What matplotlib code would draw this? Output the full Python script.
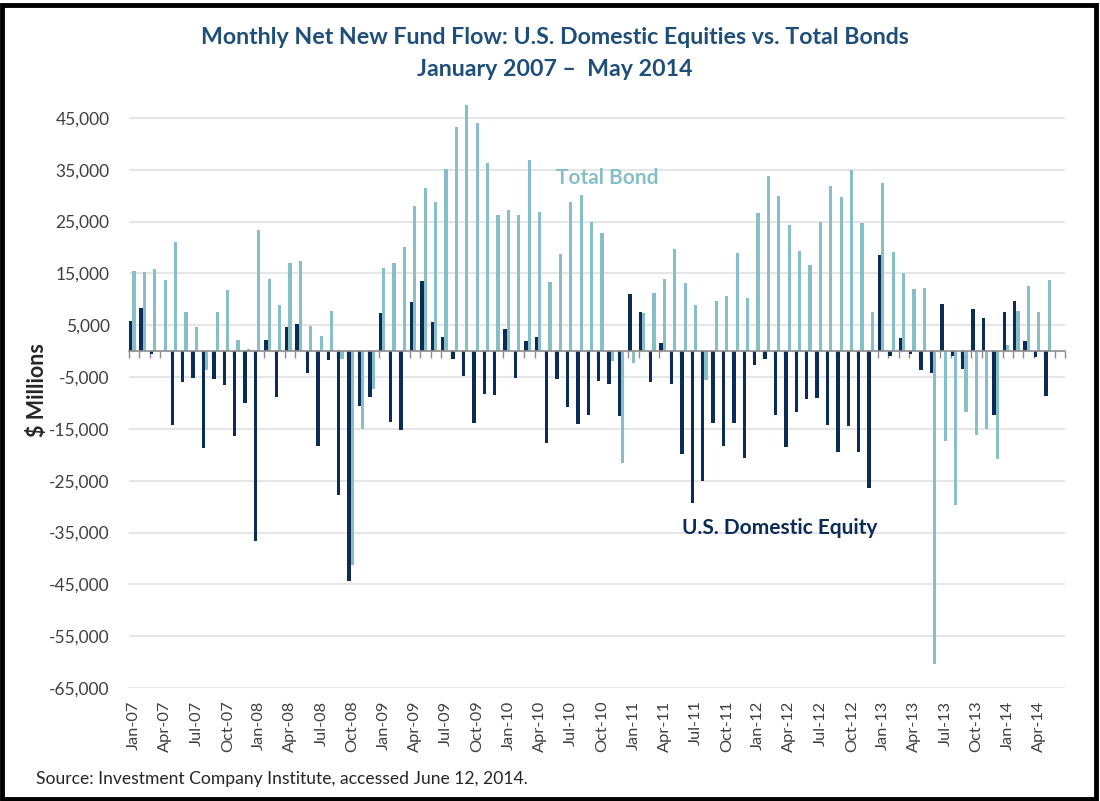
import matplotlib
matplotlib.use("Agg")
import matplotlib.pyplot as plt
from matplotlib.patches import Rectangle
import numpy as np

plt.rcParams['font.family'] = ['Lato', 'DejaVu Sans']

months = ["Jan", "Feb", "Mar", "Apr", "May", "Jun", "Jul", "Aug", "Sep", "Oct", "Nov", "Dec"]
categories = [f"{months[m]}-{y:02d}" for y in range(7, 15) for m in range(12)][:89]

# values in $ thousands of millions (multiplied by 1000 below)
equity = [5.9, 8.4, -0.5, 0.0, -14.3, -6.0, -5.1, -18.7, -5.3, -6.6, -16.4, -10.1,
          -36.6, 2.1, -8.8, 4.7, 5.2, -4.3, -18.3, -1.8, -27.8, -44.3, -10.6, -8.8,
          7.3, -13.6, -15.2, 9.4, 13.6, 5.6, 2.7, -1.6, -4.8, -13.9, -8.2, -8.5,
          4.3, -5.1, 1.9, 2.7, -17.8, -5.3, -10.8, -14.1, -12.3, -5.7, -6.4, -12.5,
          11.0, 7.5, -6.0, 1.5, -6.4, -19.9, -29.4, -25.0, -13.9, -18.3, -13.9, -20.6,
          -2.7, -1.6, -12.3, -18.5, -11.7, -9.2, -9.0, -14.3, -19.5, -14.5, -19.5, -26.4,
          18.6, -1.0, 2.6, -0.6, -3.6, -4.3, 9.1, -1.0, -3.4, 8.2, 6.4, -12.3,
          7.5, 9.6, 1.9, -1.2, -8.7]
bond = [15.4, 15.2, 15.9, 13.8, 21.0, 7.5, 4.7, -3.6, 7.5, 11.7, 2.1, 0.5,
        23.3, 14.0, 8.9, 17.1, 17.3, 4.9, 2.9, 7.8, -1.5, -41.3, -15.0, -7.3,
        16.1, 17.1, 20.0, 28.0, 31.5, 28.7, 35.2, 43.3, 47.5, 44.0, 36.3, 26.3,
        27.2, 26.3, 36.8, 26.8, 13.3, 18.7, 28.7, 30.2, 24.9, 22.8, -1.9, -21.5,
        -2.2, 7.3, 11.2, 14.0, 19.8, 13.1, 8.9, -5.5, 9.6, 10.6, 18.9, 10.3,
        26.6, 33.8, 30.0, 24.3, 19.3, 16.6, 25.0, 31.9, 29.8, 35.0, 24.7, 7.5,
        32.4, 19.1, 15.1, 11.9, 12.1, -60.3, -17.3, -29.6, -11.7, -16.2, -15.0, -20.8,
        1.2, 7.7, 12.6, 7.5, 13.8]
equity = [v * 1000 for v in equity]
bond = [v * 1000 for v in bond]

yticks = list(range(-65000, 45001, 10000))

DARK = "#0B2D55"
LIGHT = "#86BFC8"
TITLE = "#1F4E79"

W, H = 1100, 801
fig = plt.figure(figsize=(W / 100, H / 100), dpi=100)
ax = fig.add_axes([129 / W, 113 / H, (1065 - 129) / W, (709 - 113) / H])

x = np.arange(len(categories))
bw = 0.32
ax.bar(x - 0.34, equity, width=bw, color=DARK, zorder=3)
ax.bar(x - 0.02, bond, width=bw, color=LIGHT, zorder=3)

ax.set_xlim(-0.5, 89.5)
ax.set_ylim(-65000, 50000)
ax.set_yticks(yticks)
ax.set_yticklabels([f"{v:,}" for v in yticks], fontsize=12.5, color="#404040")
ax.yaxis.grid(True, color="#E3E3E3", linewidth=1.3, zorder=0)
ax.tick_params(axis='y', length=0, pad=14)

for s in ["top", "right", "left"]:
    ax.spines[s].set_visible(False)
ax.spines["bottom"].set_position(("data", 0))
ax.spines["bottom"].set_color("#8C8C8C")
ax.spines["bottom"].set_linewidth(1.2)
ax.spines["bottom"].set_zorder(4)
ax.set_xticks(np.arange(-0.5, 90, 1.0))
ax.set_xticklabels([])
ax.tick_params(axis='x', length=5, color="#8C8C8C", width=1, direction='out')

sec = ax.secondary_xaxis(0.0)
sec.set_xticks(x[::3])
sec.set_xticklabels(categories[::3], rotation=90, fontsize=11.8, color="#404040")
sec.tick_params(length=0, pad=9)
sec.spines["bottom"].set_visible(False)

ax.set_ylabel("$ Millions", fontsize=15.5, fontweight="bold", color="#262626", labelpad=1)

ax.text(45.5, 33500, "Total Bond", color=LIGHT, fontsize=15, fontweight="bold",
        ha="center", va="center")
ax.text(62.1, -34200, "U.S. Domestic Equity", color=DARK, fontsize=15, fontweight="bold",
        ha="center", va="center")

fig.text(555 / W, 1 - 38 / H, "Monthly Net New Fund Flow: U.S. Domestic Equities vs. Total Bonds",
         ha="center", va="center", fontsize=16.7, fontweight="bold", color=TITLE)
fig.text(555 / W, 1 - 70 / H, "January 2007 \u2013  May 2014",
         ha="center", va="center", fontsize=16.7, fontweight="bold", color=TITLE)
fig.text(36 / W, 1 - 779 / H, "Source: Investment Company Institute, accessed June 12, 2014.",
         ha="left", va="center", fontsize=12.6, color="#262626")

fig.patches.append(Rectangle((2 / W, 2 / H), (W - 6) / W, (H - 7) / H, transform=fig.transFigure,
                             fill=False, edgecolor="black", linewidth=3.5, zorder=10))

fig.savefig("out.png", dpi=100, facecolor="white")
